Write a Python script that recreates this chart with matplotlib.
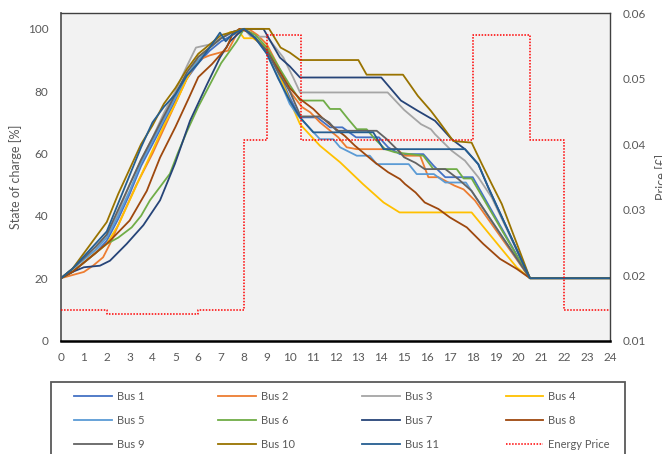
import matplotlib
matplotlib.use("Agg")
import matplotlib.pyplot as plt
from matplotlib.patches import Rectangle

plt.rcParams['font.family'] = ['Lato', 'DejaVu Sans']

# ---------------- data ----------------
bus1_time = [0, 0.5, 1, 1.5, 2, 2.5, 3, 3.5, 4, 4.5, 5, 5.5, 6, 6.5, 7, 7.5, 8, 8.5, 9, 9.5, 10, 10.45,
             11.2, 11.76, 12.3, 12.9, 13.9, 14.3, 14.82, 15.84, 16.3, 16.8, 18.0, 20.5, 24]
bus1_soc = [20, 22, 25, 28, 32, 39, 47, 56, 63, 70, 77, 84, 89, 93, 96, 98, 100, 97, 93, 86, 78, 71.6,
            71.6, 68.4, 68.4, 65.2, 65.2, 62, 59.8, 59.8, 56, 52.4, 52.4, 20, 20]

bus2_time = [0, 0.5, 1, 1.4, 1.84, 2.14, 2.65, 3.3, 4, 4.5, 5, 5.5, 6, 6.5, 7, 7.3, 7.8, 8.2, 8.6, 9, 9.5, 10,
             10.52, 10.9, 11.32, 11.69, 12.12, 12.49, 12.93, 14.7, 15.0, 15.7, 16.06, 16.5, 17.2, 17.6, 18.1, 20.5, 24]
bus2_soc = [20, 21, 22, 24, 26.7, 31, 39.5, 50, 60, 68, 76, 84, 90, 91.5, 92.5, 93, 100, 100, 98, 95, 88, 80,
            75, 73.2, 70, 67.8, 65.2, 62, 61.4, 61.4, 59.3, 59.3, 52.4, 52.4, 49.7, 48.5, 44.9, 20, 20]

bus3_time = [0, 0.5, 1, 1.5, 2, 2.5, 3, 3.5, 4, 4.5, 5, 5.5, 5.9, 6.5, 7, 7.5, 8, 8.3, 9.0, 9.72, 10.15, 10.45,
             14.28, 15.0, 15.74, 16.17, 16.35, 17.08, 17.66, 18.24, 18.83, 20.5, 24]
bus3_soc = [20, 23, 26, 29, 34, 41, 50, 58, 65, 73, 80, 88, 94, 95, 97, 99, 100, 97.5, 97.5, 90.8, 84.4, 79.6,
            79.6, 74, 69.4, 67.8, 66.2, 60.9, 57.7, 52.4, 45.9, 20, 20]

bus4_time = [0, 0.5, 1, 1.5, 2, 2.5, 3, 3.5, 4, 4.5, 5, 5.5, 6, 6.5, 7, 7.4, 7.8, 8.0, 8.4, 9, 9.5, 10, 10.45,
             11.32, 12.2, 13.2, 14.1, 14.8, 17.95, 19.19, 19.92, 20.5, 24]
bus4_soc = [20, 22, 25, 28, 31, 37, 45, 53, 61, 69, 76, 84, 91, 94, 97, 99, 99, 97, 97, 94, 86, 77, 69.4,
            62.5, 57.2, 50.2, 44.3, 41.1, 41.1, 30, 23.5, 20, 20]

bus5_time = [0, 0.5, 1, 1.5, 2, 2.5, 3, 3.5, 4, 4.5, 5, 5.5, 6, 6.5, 7, 7.5, 8, 8.5, 9, 9.57, 10.0, 10.37,
             11.32, 11.9, 12.2, 12.93, 13.5, 13.8, 15.2, 15.55, 16.3, 16.8, 17.7, 20.5, 24]
bus5_soc = [20, 23, 26, 29, 33, 40, 48, 57, 64, 71, 78, 85, 90, 94, 97, 99, 100, 97, 92, 83.3, 75.9, 72.1,
            64.6, 64.6, 62, 59.3, 59.3, 56.6, 56.6, 53.4, 53.4, 50.7, 50.7, 20, 20]

bus6_time = [0, 0.5, 1, 1.5, 2, 2.5, 3.09, 3.5, 3.89, 4.76, 5.1, 5.5, 6, 6.5, 7, 7.68, 8, 8.5, 9, 9.5, 10, 10.45,
             11.47, 11.76, 12.2, 12.56, 12.93, 13.36, 13.73, 14.17, 14.6, 15.84, 16.28, 17.3, 17.6, 17.95, 20.5, 24]
bus6_soc = [20, 22, 25, 28, 31, 33, 36.3, 40, 45, 53.5, 60, 67, 75, 82, 89, 96, 100, 98, 94, 88, 82, 77,
            77, 74.3, 74.3, 71, 67.8, 67.8, 64.6, 61.4, 60.4, 59.3, 55, 55, 52, 52, 20, 20]

bus7_time = [0, 0.5, 1, 1.7, 2.14, 2.87, 3.6, 4.33, 4.98, 5.64, 6.37, 6.95, 7.39, 7.8, 8.0, 8.85, 9.57, 10.0, 10.45,
             14.0, 14.86, 15.6, 16.35, 17.08, 17.66, 18.24, 18.68, 20.5, 24]
bus7_soc = [20, 22, 23.5, 24, 25.6, 31, 37, 45, 56.7, 70.5, 82, 90.8, 96, 98.8, 100, 100, 90.8, 88, 84.4,
            84.4, 77, 73.7, 70.5, 64.6, 61.4, 56.6, 49.1, 20, 20]

bus8_time = [0, 0.5, 1, 1.5, 2.14, 3.0, 3.75, 4.33, 5, 5.6, 6, 6.6, 7.24, 7.5, 7.8, 8.2, 8.6, 9, 9.5, 10, 10.45,
             11.03, 11.4, 11.83, 12.4, 12.85, 13.73, 14.3, 14.82, 15.04, 15.5, 15.9, 16.5, 17.0, 17.74, 18.46,
             19.19, 19.92, 20.5, 24]
bus8_soc = [20, 22, 25, 28, 32, 38.5, 48, 58.7, 68.5, 78, 84.5, 88.7, 94, 98.4, 100, 99, 96, 93, 87, 81, 77.5,
            74.3, 71.6, 68.9, 65.7, 62.5, 57.1, 54, 51.8, 50.2, 47.5, 44.3, 42.2, 39.5, 36.3, 31,
            26.2, 23, 20, 20]

bus9_time = [0, 0.5, 1, 1.5, 2, 2.5, 3, 3.5, 4, 4.5, 5, 5.5, 6, 6.5, 7, 7.5, 8, 8.5, 9, 9.5, 10, 10.48,
             11.29, 11.72, 12.05, 13.8, 14.24, 14.75, 15.0, 15.5, 15.9, 16.8, 17.37, 17.95, 20.5, 24]
bus9_soc = [20, 23, 26.5, 30, 34, 42, 50, 58, 65, 72, 79, 86, 91, 94, 97, 99, 100, 97, 93, 86, 80, 71.9,
            71.9, 70, 67.3, 67.3, 64.6, 60.9, 58.8, 57, 55, 55, 51.8, 48, 20, 20]

bus10_time = [0, 0.5, 1, 1.5, 2, 2.5, 3, 3.5, 4, 4.5, 5, 5.5, 6, 6.5, 7, 7.5, 8, 9.1, 9.6, 10, 10.45,
              13.0, 13.36, 14.95, 15.6, 16.17, 16.5, 17.15, 17.95, 18.4, 18.83, 19.27, 20.5, 24]
bus10_soc = [20, 23, 28, 33, 38, 47, 55, 63, 69, 76, 81, 87, 92, 95, 98, 99, 100, 100, 94, 92.4, 90,
             90, 85.3, 85.3, 78.5, 73.7, 70.5, 64, 63.5, 56.6, 50.2, 43.8, 20, 20]

bus11_time = [0, 0.5, 1, 1.5, 2, 2.5, 3, 3.5, 4, 4.5, 5, 5.5, 6, 6.5, 6.95, 7.2, 7.45, 7.7, 8, 8.5, 9, 9.5, 10,
              10.45, 11.03, 13.65, 14.1, 17.66, 18.24, 18.68, 20.5, 24]
bus11_soc = [20, 23, 27, 31, 35, 44, 53, 62, 70, 75, 79, 85, 89, 94, 98.8, 96, 98, 99, 100, 97, 92, 84, 77,
             71.6, 66.8, 66.8, 61.4, 61.4, 56.6, 49.1, 20, 20]

price_time = [0, 2, 6, 8, 9, 10.5, 18, 20.5, 22, 24]
price_value = [0.0146, 0.0141, 0.0146, 0.0406, 0.0567, 0.0406, 0.0567, 0.0406, 0.0146, 0.0146]

bus_labels = ['Bus 1', 'Bus 2', 'Bus 3', 'Bus 4', 'Bus 5', 'Bus 6', 'Bus 7', 'Bus 8',
              'Bus 9', 'Bus 10', 'Bus 11']
bus_colors = ['#4472C4', '#ED7D31', '#A5A5A5', '#FFC000', '#5B9BD5', '#70AD47',
              '#264478', '#9E480E', '#636363', '#997300', '#255E91']
x_ticks = list(range(0, 25))
soc_ticks = [0, 20, 40, 60, 80, 100]
price_ticks = [0.01, 0.02, 0.03, 0.04, 0.05, 0.06]

bus_times = [bus1_time, bus2_time, bus3_time, bus4_time, bus5_time, bus6_time,
             bus7_time, bus8_time, bus9_time, bus10_time, bus11_time]
bus_socs = [bus1_soc, bus2_soc, bus3_soc, bus4_soc, bus5_soc, bus6_soc,
            bus7_soc, bus8_soc, bus9_soc, bus10_soc, bus11_soc]

# ---------------- figure ----------------
W, H = 662, 454
fig = plt.figure(figsize=(W / 100, H / 100), dpi=100)
ax = fig.add_axes([61 / W, 1 - 340.5 / H, (610 - 61) / W, (340.5 - 13.3) / H])
ax.set_facecolor('#F2F2F2')

lines = []
for t, s, c, lab in zip(bus_times, bus_socs, bus_colors, bus_labels):
    ln, = ax.plot(t, s, color=c, lw=1.3, label=lab, solid_joinstyle='round')
    lines.append(ln)

ax.set_xlim(0, 24)
ax.set_ylim(0, 105)
ax.set_xticks(x_ticks)
ax.set_yticks(soc_ticks)
tick_col = '#595959'
ax.tick_params(axis='both', length=0, labelsize=8.5, labelcolor=tick_col)
ax.tick_params(axis='x', pad=8)
ax.tick_params(axis='y', pad=9)
ax.set_ylabel('State of charge [%]', fontsize=9, color=tick_col, labelpad=4)

ax2 = ax.twinx()
pl, = ax2.plot(price_time, price_value, drawstyle='steps-post', color='#FF0000',
               lw=1.1, linestyle=(0, (1, 1)), label='Energy Price')
ax2.set_ylim(0.01, 0.06)
ax2.set_yticks(price_ticks)
ax2.set_yticklabels([f'{v:.2f}' for v in price_ticks])
ax2.tick_params(axis='y', length=0, labelsize=8.5, labelcolor=tick_col, pad=9)

for a in (ax, ax2):
    for sp in a.spines.values():
        sp.set_visible(False)
ax.spines['left'].set_visible(True)
ax.spines['left'].set_color('#595959')
ax.spines['left'].set_linewidth(1.3)
ax.spines['top'].set_visible(True)
ax.spines['top'].set_color('#404040')
ax.spines['top'].set_linewidth(1.0)
ax2.spines['right'].set_visible(True)
ax2.spines['right'].set_color('#404040')
ax2.spines['right'].set_linewidth(1.0)
ax2.spines['bottom'].set_visible(True)
ax2.spines['bottom'].set_color('black')
ax2.spines['bottom'].set_linewidth(1.8)

# right-axis title sits at the image edge, partly outside, as in the reference
fig.text(655 / W, 1 - 177 / H, 'Price [£]', rotation=90, ha='left', va='center',
         fontsize=9, color=tick_col)

# legend box
fig.patches.append(Rectangle((51 / W, 1 - 470 / H), (625 - 51) / W, (470 - 381.7) / H,
                             transform=fig.transFigure, facecolor='white',
                             edgecolor='#595959', lw=1.3, zorder=0))

handles = lines + [pl]
labels = bus_labels + ['Energy Price']
col_x = [74.3, 218.3, 362.0, 505.5]
for ci, cx in enumerate(col_x):
    hs = [handles[ci], handles[ci + 4], handles[ci + 8]]
    ls = [labels[ci], labels[ci + 4], labels[ci + 8]]
    fig.legend(hs, ls, loc='upper left', bbox_to_anchor=(cx / W, 1 - 390.5 / H),
               bbox_transform=fig.transFigure, frameon=False, fontsize=8,
               borderpad=0, borderaxespad=0, handlelength=3.4, handletextpad=0.45,
               labelspacing=1.17, labelcolor=tick_col)

fig.savefig('out.png', dpi=100)
